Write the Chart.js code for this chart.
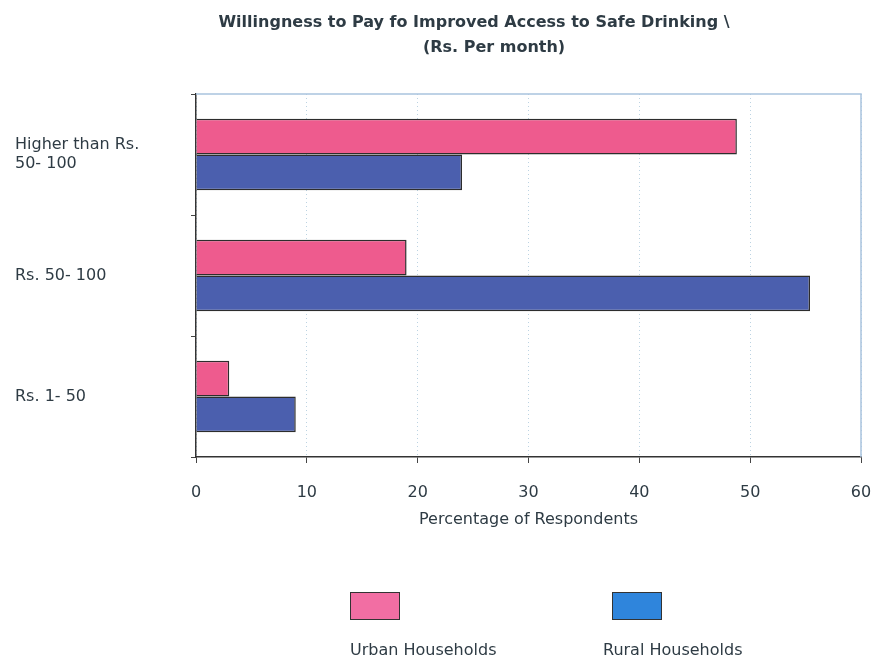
<!DOCTYPE html>
<html>
<head>
<meta charset="utf-8">
<script src="https://cdn.jsdelivr.net/npm/chart.js@4/dist/chart.umd.min.js"></script>
<style>
  html, body { margin: 0; padding: 0; background: #fff; }
  #wrap { position: relative; width: 875px; height: 658px; }
  .txt { position: absolute; font-family: "DejaVu Sans", sans-serif; color: #2e3b44; white-space: nowrap; }
  .title { font-weight: bold; font-size: 16px; transform: translateX(-50%); }
  .lg-box { position: absolute; width: 50px; height: 28px; border: 1.5px solid #333; box-sizing: border-box; }
  .lg-text { font-size: 16px; }
</style>
</head>
<body>
<div id="wrap">
  <canvas id="chart" width="875" height="658"></canvas>
  <div class="txt title" style="left:474px; top:12px;">Willingness to Pay fo Improved Access to Safe Drinking \</div>
  <div class="txt title" style="left:494px; top:37px;">(Rs. Per month)</div>
  <div id="legend"></div>
</div>
<script>
const categories = [['Higher than Rs.', '50- 100'], 'Rs. 50- 100', 'Rs. 1- 50'];
const seriesNames = ['Urban Households', 'Rural Households'];
const urbanValues = [48.8, 19, 3];
const ruralValues = [24, 55.4, 9];
const xTicks = [0, 10, 20, 30, 40, 50, 60];

const barColors = ['#ee5b8e', '#4b5fae'];
const legendColors = ['#f26ea3', '#2f85dc'];

// legend sits under the chart, box above its text
const legendPos = [{ box: 350, text: 350 }, { box: 612, text: 603 }];
const legend = document.getElementById('legend');
seriesNames.forEach((name, i) => {
    const box = document.createElement('div');
    box.className = 'lg-box';
    box.style.left = legendPos[i].box + 'px';
    box.style.top = '592px';
    box.style.background = legendColors[i];
    legend.appendChild(box);
    const t = document.createElement('div');
    t.className = 'txt lg-text';
    t.style.left = legendPos[i].text + 'px';
    t.style.top = '640px';
    t.textContent = name;
    legend.appendChild(t);
});

// thin light-blue frame on top and right of the plot
const frame = {
    id: 'frame',
    afterDraw(chart) {
        const a = chart.chartArea;
        const ctx = chart.ctx;
        ctx.save();
        ctx.strokeStyle = '#a9c3de';
        ctx.lineWidth = 1.5;
        ctx.beginPath();
        ctx.moveTo(a.left, a.top);
        ctx.lineTo(a.right, a.top);
        ctx.lineTo(a.right, a.bottom);
        ctx.stroke();
        ctx.restore();
    }
};

const ctx = document.getElementById('chart').getContext('2d');
new Chart(ctx, {
    type: 'bar',
    data: {
        labels: categories,
        datasets: [{
            label: seriesNames[0],
            data: urbanValues,
            backgroundColor: barColors[0],
            borderColor: '#2d2d2d',
            borderWidth: 1.5
        }, {
            label: seriesNames[1],
            data: ruralValues,
            backgroundColor: barColors[1],
            borderColor: '#2d2d2d',
            borderWidth: 1.5
        }]
    },
    options: {
        indexAxis: 'y',
        responsive: false,
        animation: false,
        devicePixelRatio: 1,
        layout: { padding: { left: 15, right: 14, top: 94, bottom: 129 } },
        datasets: { bar: { categoryPercentage: 0.59, barPercentage: 1 } },
        plugins: {
            legend: { display: false },
            title: { display: false },
            tooltip: { enabled: false }
        },
        scales: {
            x: {
                min: 0,
                max: 60,
                afterBuildTicks: (s) => { s.ticks = xTicks.map(v => ({ value: v })); },
                afterFit: (s) => { s.height = 72; s.paddingLeft = 0; s.paddingRight = 0; },
                grid: {
                    color: '#bcd3e2',
                    tickColor: '#444',
                    tickLength: 6,
                    tickBorderDash: []
                },
                border: { color: '#333', width: 1.5, dash: [1, 3] },
                ticks: {
                    padding: 20,
                    color: '#2e3b44',
                    font: { family: 'DejaVu Sans', size: 16 }
                },
                title: {
                    display: true,
                    text: 'Percentage of Respondents',
                    color: '#2e3b44',
                    padding: 0,
                    font: { family: 'DejaVu Sans', size: 16 }
                }
            },
            y: {
                afterFit: (s) => { s.width = 181; },
                grid: {
                    offset: true,
                    drawOnChartArea: false,
                    color: '#444',
                    tickLength: 5
                },
                border: { color: '#333', width: 1.5 },
                ticks: {
                    crossAlign: 'far',
                    color: '#2e3b44',
                    font: { family: 'DejaVu Sans', size: 16 }
                }
            }
        }
    },
    plugins: [frame]
});
</script>
</body>
</html>
